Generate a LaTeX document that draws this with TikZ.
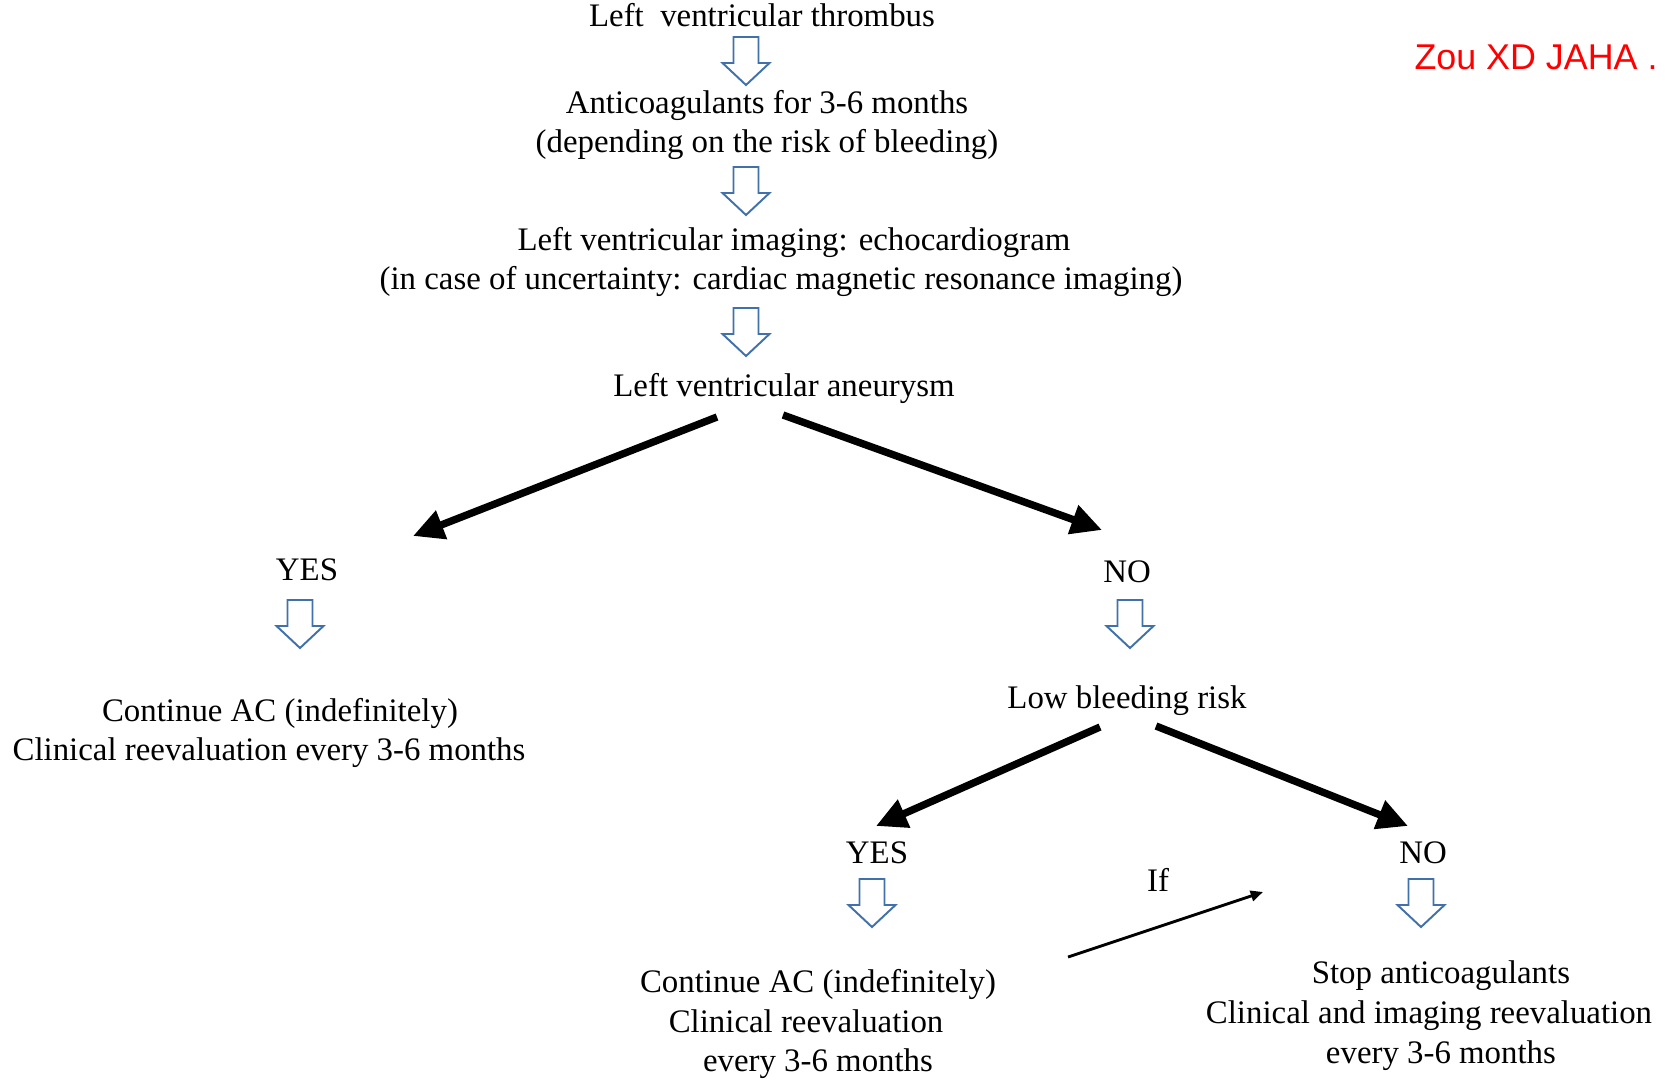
\documentclass[tikz,border=0pt]{standalone}
\usepackage{fontspec}
\setmainfont{Liberation Serif}
\newfontfamily\refsans{Liberation Sans}
\usetikzlibrary{arrows.meta,calc}
\definecolor{hollowblue}{RGB}{65,113,170}

\begin{document}
\begin{tikzpicture}[x=0.02cm, y=-0.02cm,
    txt/.style={font=\fontsize{18.7}{22.7}\selectfont, align=center, inner sep=0pt},
    bigarrow/.style={line width=4.2pt, -{Triangle[length=17.5pt, width=16.5pt]}},
    thinarrow/.style={line width=1.6pt, -{Triangle[length=7pt, width=6pt]}},
    downarrow/.pic={\draw[hollowblue, line width=1.1pt, fill=white]
      (-12.5,0) -- (12.5,0) -- (12.5,26) -- (23.5,26) -- (0,48) -- (-23.5,26) -- (-12.5,26) -- cycle;}]
    \useasboundingbox (0,0) rectangle (1671,1080);

    % Nodes
    \node[txt] at (762, 15) (thrombus) {Left\ \ ventricular thrombus};
    \node[txt] at (767, 125) (anticoag) {Anticoagulants for 3-6 months\\(depending on the risk of bleeding)};
    \node[txt] at (781, 262) (imaging) {\hspace{14.7pt}Left ventricular imaging: echocardiogram\\(in case of uncertainty: cardiac magnetic resonance imaging)};
    \node[txt] at (784, 388) (aneurysm) {Left ventricular aneurysm};

    \node[txt] at (307, 570) (yesone) {YES};
    \node[txt] at (1127, 572) (noone) {NO};
    \node[txt] at (269, 733) (contone) {\hspace{12.5pt}Continue AC (indefinitely)\\Clinical reevaluation every 3-6 months};
    \node[txt] at (1127, 701) (lowrisk) {Low bleeding risk};

    \node[txt] at (877, 853) (yestwo) {YES};
    \node[txt] at (1423, 853) (notwo) {NO};
    \node[txt] at (818, 1024) (conttwo) {Continue AC (indefinitely)\\Clinical reevaluation\rule{13.6pt}{0pt}\\every 3-6 months};
    \node[txt] at (1429, 1016) (stopac) {\hspace{13.6pt}Stop anticoagulants\\Clinical and imaging reevaluation\\\hspace{13.6pt}every 3-6 months};
    \node[txt] at (1158, 880) (iflabel) {If};

    \node[inner sep=0pt, text=red, font=\refsans\fontsize{20.4}{24}\selectfont] at (1536, 57) (source) {Zou XD JAHA .};

    % hollow arrows
    \pic at (746, 37) {downarrow};
    \pic at (746, 167) {downarrow};
    \pic at (746, 308) {downarrow};
    \pic at (300, 600) {downarrow};
    \pic at (1130, 600) {downarrow};
    \pic at (872, 879) {downarrow};
    \pic at (1421, 879) {downarrow};

    % branches
    \draw[bigarrow] ($(aneurysm)+(-67,29)$) -- ($(yesone)+(106,-34)$);
    \draw[bigarrow] ($(aneurysm)+(-1,27)$) -- ($(noone)+(-25,-42)$);
    \draw[bigarrow] ($(lowrisk)+(-27,26)$) -- ($(yestwo)+(-1,-27)$);
    \draw[bigarrow] ($(lowrisk)+(29,25)$) -- ($(notwo)+(-15,-27)$);

    \draw[thinarrow] ($(conttwo)+(250,-67)$) -- ($(stopac)+(-166,-124)$);

\end{tikzpicture}
\end{document}
